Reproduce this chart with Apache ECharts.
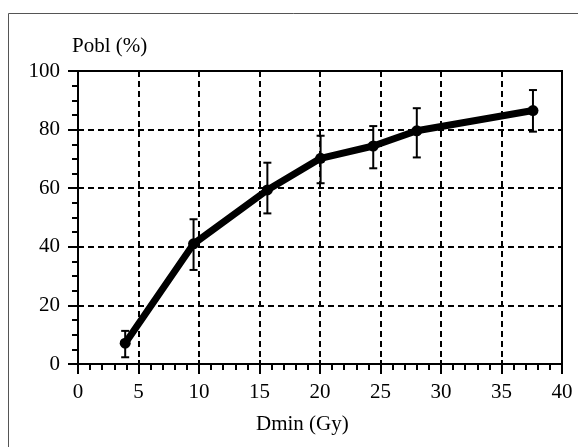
<!DOCTYPE html>
<html><head><meta charset="utf-8">
<script src="https://cdn.jsdelivr.net/npm/echarts@6/dist/echarts.min.js"></script>
<style>html,body{margin:0;padding:0;background:#fff}#c{width:578px;height:447px}</style>
</head><body><div id="c"></div>
<script>
const dose = [3.9, 9.55, 15.65, 20.05, 24.4, 28.0, 37.6];
const pobl = [7.1, 41.0, 59.4, 70.2, 74.4, 79.6, 86.5];
const errHigh = [11.3, 49.4, 68.7, 77.9, 81.2, 87.3, 93.5];
const errLow = [2.3, 32.1, 51.4, 61.7, 66.8, 70.5, 79.3];
const xTicks = [0, 5, 10, 15, 20, 25, 30, 35, 40];
const yTicks = [0, 20, 40, 60, 80, 100];

const FONT = 'Liberation Serif';
const chart = echarts.init(document.getElementById('c'), null, {renderer: 'canvas'});
const gridBox = {left: 78, right: 16, top: 71, bottom: 83};
const lineData = dose.map((d, i) => [d, pobl[i]]);
const errData = dose.map((d, i) => [d, errLow[i], errHigh[i]]);

const baseX = {
  type: 'value', min: xTicks[0], max: xTicks[xTicks.length - 1], interval: 5
};
const baseY = {
  type: 'value', min: yTicks[0], max: yTicks[yTicks.length - 1], interval: 20
};

chart.setOption({
  animation: false,
  backgroundColor: '#fff',
  grid: [
    Object.assign({show: true, borderColor: '#000', borderWidth: 2, backgroundColor: 'transparent'}, gridBox),
    Object.assign({}, gridBox)
  ],
  graphic: [
    {type: 'rect', shape: {x: 8.5, y: 13.5, width: 700, height: 600}, style: {fill: 'none', stroke: '#555', lineWidth: 1}, silent: true},
    {type: 'text', left: 72, top: 36, style: {text: 'Pobl (%)', font: '21px "Liberation Serif"', fill: '#000'}},
    {type: 'text', left: 256, top: 414, style: {text: 'Dmin (Gy)', font: '21px "Liberation Serif"', fill: '#000'}}
  ],
  xAxis: [
    Object.assign({}, baseX, {
      gridIndex: 0,
      axisLine: {show: true, onZero: false, lineStyle: {color: '#000', width: 2}},
      axisTick: {show: true, inside: false, length: 10, lineStyle: {color: '#000', width: 2}},
      minorTick: {show: true, splitNumber: 5, length: 6, lineStyle: {color: '#000', width: 2}},
      axisLabel: {color: '#000', fontFamily: FONT, fontSize: 21, margin: 18},
      splitLine: {show: true, lineStyle: {color: '#000', width: 2, type: [6, 4]}}
    }),
    Object.assign({}, baseX, {
      gridIndex: 1,
      axisLine: {show: false},
      axisTick: {show: true, inside: true, length: 4, lineStyle: {color: '#000', width: 2}},
      axisLabel: {show: false},
      splitLine: {show: false}
    })
  ],
  yAxis: [
    Object.assign({}, baseY, {
      gridIndex: 0,
      axisLine: {show: true, onZero: false, lineStyle: {color: '#000', width: 2}},
      axisTick: {show: true, inside: false, length: 10, lineStyle: {color: '#000', width: 2}},
      minorTick: {show: true, splitNumber: 4, length: 6, lineStyle: {color: '#000', width: 2}},
      axisLabel: {color: '#000', fontFamily: FONT, fontSize: 21, margin: 18},
      splitLine: {show: true, lineStyle: {color: '#000', width: 2, type: [6, 4]}}
    }),
    Object.assign({}, baseY, {
      gridIndex: 1,
      axisLine: {show: false},
      axisTick: {show: true, inside: true, length: 4, lineStyle: {color: '#000', width: 2}},
      axisLabel: {show: false},
      splitLine: {show: false}
    })
  ],
  series: [
    {
      type: 'custom',
      xAxisIndex: 0, yAxisIndex: 0,
      data: errData,
      z: 3,
      renderItem: function (params, api) {
        const x = api.value(0);
        const lo = api.coord([x, api.value(1)]);
        const hi = api.coord([x, api.value(2)]);
        const w = 4;
        const st = {stroke: '#000', lineWidth: 2};
        return {
          type: 'group',
          children: [
            {type: 'line', shape: {x1: lo[0], y1: lo[1], x2: hi[0], y2: hi[1]}, style: st},
            {type: 'line', shape: {x1: lo[0] - w, y1: lo[1], x2: lo[0] + w, y2: lo[1]}, style: st},
            {type: 'line', shape: {x1: hi[0] - w, y1: hi[1], x2: hi[0] + w, y2: hi[1]}, style: st}
          ]
        };
      }
    },
    {
      type: 'line',
      xAxisIndex: 0, yAxisIndex: 0,
      data: lineData,
      z: 4,
      symbol: 'circle',
      symbolSize: 11,
      itemStyle: {color: '#000'},
      lineStyle: {color: '#000', width: 7}
    }
  ]
});
</script>
</body></html>
